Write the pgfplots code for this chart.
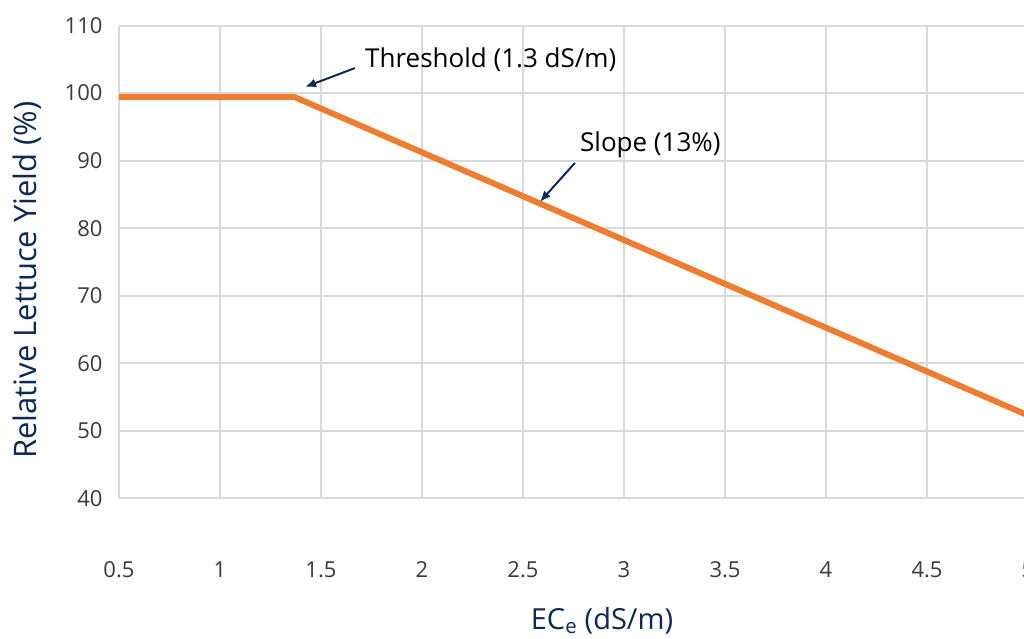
\documentclass[border=0pt]{standalone}
\usepackage{fontspec}
\setmainfont{Open Sans}
\usepackage{pgfplots}
\pgfplotsset{compat=1.18}
\usetikzlibrary{arrows.meta}
\definecolor{lineorange}{HTML}{ED7D31}
\definecolor{navy}{HTML}{0E2A52}
\definecolor{gridgray}{HTML}{D9D9D9}
\definecolor{ticktext}{HTML}{3A3A3A}
\begin{document}
\begin{tikzpicture}
\begin{axis}[
  at={(119bp,140.5bp)}, anchor=south west,
  scale only axis,
  width=909bp, height=473bp,
  xmin=0.5, xmax=5, ymin=40, ymax=110,
  xtick={0.5,1,...,5}, ytick={40,50,...,110},
  axis line style={draw=none},
  major tick length=0pt,
  grid=major,
  major grid style={gridgray, line width=2bp},
  /pgf/number format/assume math mode=true,
  ticklabel style={font=\fontsize{22bp}{26bp}\selectfont, text=ticktext},
  xticklabel style={yshift=-60bp},
  yticklabel style={xshift=-13bp},
  clip=false,
]
\addplot[lineorange, line width=6bp, line join=round] coordinates {
  (0.5,99.4) (1.37,99.4) (5,52.3)
};
\draw[navy, line width=2bp, -{Latex[length=11bp,width=9bp]}] (axis cs:1.668,103.7) -- (axis cs:1.421,100.9);
\draw[navy, line width=2bp, -{Latex[length=11bp,width=9bp]}] (axis cs:2.757,89.66) -- (axis cs:2.584,83.9);
\node[anchor=west, inner sep=0pt, font=\fontsize{26bp}{30bp}\selectfont] at (axis cs:1.718,105.0) {Threshold (1.3 dS/m)};
\node[anchor=west, inner sep=0pt, font=\fontsize{26bp}{30bp}\selectfont] at (axis cs:2.782,92.3) {Slope (13\%)};
\end{axis}
\node[rotate=90, text=navy, font=\fontsize{31bp}{36bp}\selectfont] at (27bp,359bp) {Relative Lettuce Yield (\%)};
\node[text=navy, font=\fontsize{29bp}{34bp}\selectfont] at (602bp,18bp) {EC\textsubscript{e} (dS/m)};
\pgfresetboundingbox
\path[use as bounding box] (0,0) rectangle (1024bp,639bp);
\end{tikzpicture}
\end{document}
